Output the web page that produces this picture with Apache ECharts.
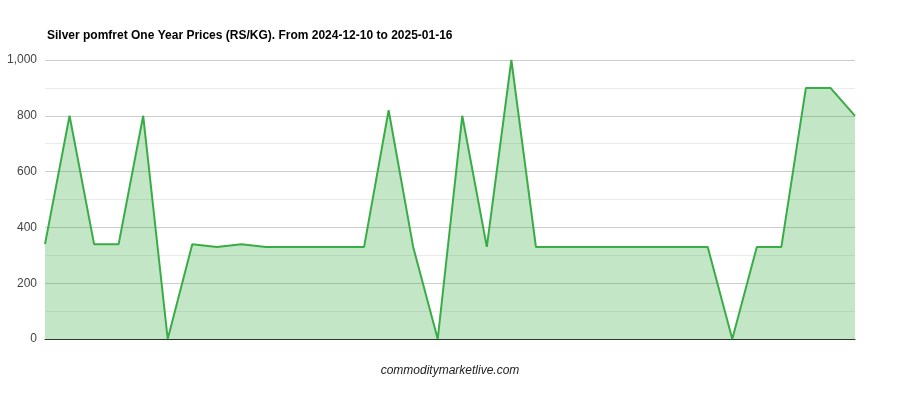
<!DOCTYPE html>
<html>
<head>
<meta charset="utf-8">
<script src="https://cdn.jsdelivr.net/npm/echarts@6/dist/echarts.min.js"></script>
<style>html,body{margin:0;padding:0;background:#fff;}#c{width:900px;height:400px;}</style>
</head>
<body>
<div id="c"></div>
<script>
const categories = ['1','2','3','4','5','6','7','8','9','10','11','12','13','14','15','16','17','18','19','20','21','22','23','24','25','26','27','28','29','30','31','32','33','34'];
const prices = [340,800,340,340,800,0,340,330,340,330,330,330,330,330,820,330,0,800,330,1000,330,330,330,330,330,330,330,330,0,330,330,900,900,800];
const yTicks = [0,200,400,600,800,1000];

const chart = echarts.init(document.getElementById('c'));
chart.setOption({
  animation: false,
  title: [{
    text: 'Silver pomfret One Year Prices (RS/KG). From 2024-12-10 to 2025-01-16',
    left: 42, top: 25,
    textStyle: {fontFamily: 'Arial, Liberation Sans', fontSize: 12, fontWeight: 'bold', color: '#000'}
  }, {
    text: 'commoditymarketlive.com',
    left: 'center', top: 360,
    textStyle: {fontFamily: 'Arial, Liberation Sans', fontSize: 12, fontStyle: 'italic', fontWeight: 'normal', color: '#222'}
  }],
  grid: {left: 45, right: 45, top: 60, bottom: 61},
  xAxis: {
    type: 'category', data: categories, boundaryGap: false,
    axisLine: {lineStyle: {color: '#333', width: 1}},
    axisTick: {show: false}, axisLabel: {show: false}, splitLine: {show: false}
  },
  yAxis: {
    type: 'value', min: yTicks[0], max: yTicks[yTicks.length-1], interval: 200,
    axisLine: {show: false}, axisTick: {show: false},
    axisLabel: {color: '#444', fontSize: 12, fontFamily: 'Arial, Liberation Sans', margin: 8,
      formatter: v => v.toLocaleString('en-US')},
    splitLine: {lineStyle: {color: '#ccc', width: 1}},
    minorTick: {show: false, splitNumber: 2},
    minorSplitLine: {show: true, lineStyle: {color: '#ebebeb', width: 1}}
  },
  series: [{
    type: 'line', data: prices, symbol: 'none',
    lineStyle: {color: '#39ac46', width: 2},
    itemStyle: {color: '#39ac46'},
    areaStyle: {color: '#39ac46', opacity: 0.3}
  }]
});
</script>
</body>
</html>
